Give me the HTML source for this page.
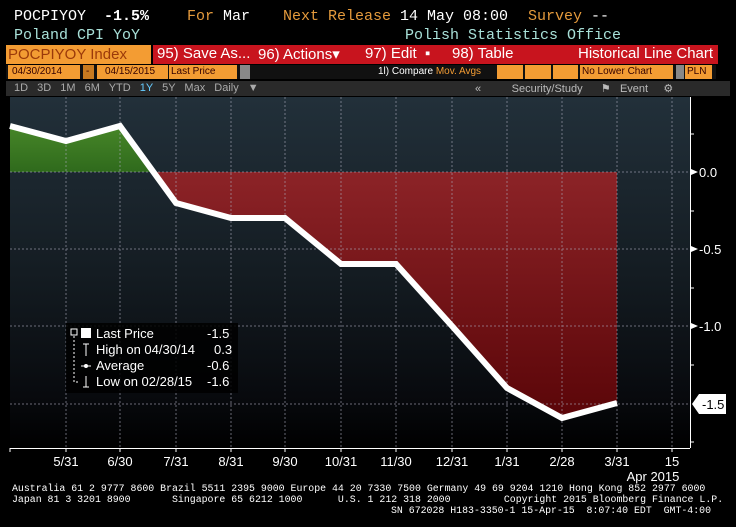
<!DOCTYPE html><html><head><style>
body{margin:0;width:736px;height:527px;background:#000;overflow:hidden;font-family:"Liberation Mono",monospace;position:relative}
.t{position:absolute;white-space:nowrap}
.s{font-family:"Liberation Sans",sans-serif}
.b{position:absolute;top:65px;height:14px;background:#f39c33}
.bt{position:absolute;top:66px;font-size:10px;color:#300;font-family:"Liberation Sans",sans-serif;white-space:nowrap}
</style></head><body>
<div class="t" style="left:14px;top:8px;font-size:15px;color:#fff">POCPIYOY &nbsp;<b>-1.5%</b></div>
<div class="t" style="left:187px;top:8px;font-size:15px;color:#e49a3c">For <span style="color:#fff">Mar</span></div>
<div class="t" style="left:283px;top:8px;font-size:15px;color:#e49a3c">Next Release <span style="color:#fff">14 May 08:00</span></div>
<div class="t" style="left:528px;top:8px;font-size:15px;color:#e49a3c">Survey <span style="color:#fff">--</span></div>
<div class="t" style="left:14px;top:27px;font-size:15px;color:#a8e0d8">Poland CPI YoY</div>
<div class="t" style="left:405px;top:27px;font-size:15px;color:#a8e0d8">Polish Statistics Office</div>
<div style="position:absolute;left:6px;top:45px;width:145px;height:19px;background:#f39c33"></div>
<div class="t s" style="left:8px;top:46px;font-size:15px;color:#9b3a0a">POCPIYOY Index</div>
<div style="position:absolute;left:153px;top:45px;width:565px;height:19px;background:#c8141e"></div>
<div class="t s" style="left:157px;top:45px;font-size:15px;color:#fff">95) Save As...</div>
<div class="t s" style="left:258px;top:45px;font-size:15px;color:#fff">96) Actions▾</div>
<div class="t s" style="left:365px;top:45px;font-size:15px;color:#fff">97) Edit &nbsp;▪</div>
<div class="t s" style="left:452px;top:45px;font-size:15px;color:#fff">98) Table</div>
<div class="t s" style="left:578px;top:45px;font-size:15px;color:#fff">Historical Line Chart</div>
<div style="position:absolute;left:6px;top:65px;width:710px;height:14px;background:#111"></div>
<div class="b" style="left:8px;width:72px"></div><div class="bt" style="left:12px">04/30/2014</div>
<div class="b" style="left:83px;width:11px;background:#c87a20"></div><div class="bt" style="left:86px">-</div>
<div class="b" style="left:97px;width:71px"></div><div class="bt" style="left:105px">04/15/2015</div>
<div class="b" style="left:169px;width:68px"></div><div class="bt" style="left:171px">Last Price</div>
<div class="b" style="left:240px;width:10px;background:#888"></div>
<div class="t s" style="left:378px;top:66px;font-size:10px;color:#fff">1l) Compare <span style="color:#f39c33">Mov. Avgs</span></div>
<div class="b" style="left:497px;width:26px"></div><div class="b" style="left:525px;width:26px"></div><div class="b" style="left:553px;width:25px"></div>
<div class="b" style="left:580px;width:93px"></div><div class="bt" style="left:582px">No Lower Chart</div>
<div class="b" style="left:676px;width:8px;background:#888"></div>
<div class="b" style="left:685px;width:27px"></div><div class="bt" style="left:687px">PLN</div>
<div style="position:absolute;left:6px;top:81px;width:724px;height:15px;background:#2a2a2a"></div>
<div class="t s" style="left:14px;top:82px;font-size:11px;color:#aaa;word-spacing:6px">1D 3D 1M 6M YTD <span style="color:#6cf">1Y</span> 5Y Max Daily ▼</div>
<div class="t s" style="left:475px;top:82px;font-size:11px;color:#bbb">« &nbsp;&nbsp;&nbsp;&nbsp;&nbsp;&nbsp;&nbsp;&nbsp;&nbsp;Security/Study &nbsp;&nbsp;&nbsp;&nbsp;&nbsp;⚑ &nbsp;&nbsp;Event &nbsp;&nbsp;&nbsp;&nbsp;⚙</div>
<svg style="position:absolute;left:0;top:0" width="736" height="527">
<defs>
<linearGradient id="bg" x1="0" y1="97" x2="0" y2="448" gradientUnits="userSpaceOnUse"><stop offset="0" stop-color="#22303a"/><stop offset="0.5" stop-color="#141c22"/><stop offset="0.85" stop-color="#080a0e"/><stop offset="1" stop-color="#000"/></linearGradient>
<linearGradient id="rd" x1="0" y1="172" x2="0" y2="420" gradientUnits="userSpaceOnUse"><stop offset="0" stop-color="#8c2327"/><stop offset="1" stop-color="#5a0508"/></linearGradient>
<linearGradient id="gr" x1="0" y1="120" x2="0" y2="172" gradientUnits="userSpaceOnUse"><stop offset="0" stop-color="#4a8a2a"/><stop offset="1" stop-color="#2f6a1c"/></linearGradient>
</defs>
<rect x="10" y="97" width="680" height="351" fill="url(#bg)"/>
<polygon points="10,126 66,141 120,126 153.6,172 10,172" fill="url(#gr)"/>
<polygon points="153.6,172 176,203 231,218 285,218 341,264 396,264 452,326 507,388 562,418 617,403 617,172" fill="url(#rd)"/>
<g stroke="#aab" stroke-width="1" stroke-dasharray="2,2" opacity="0.6">
<line x1="66" y1="97" x2="66" y2="448"/><line x1="120" y1="97" x2="120" y2="448"/><line x1="176" y1="97" x2="176" y2="448"/><line x1="231" y1="97" x2="231" y2="448"/><line x1="285" y1="97" x2="285" y2="448"/><line x1="341" y1="97" x2="341" y2="448"/><line x1="396" y1="97" x2="396" y2="448"/><line x1="452" y1="97" x2="452" y2="448"/><line x1="507" y1="97" x2="507" y2="448"/><line x1="562" y1="97" x2="562" y2="448"/><line x1="617" y1="97" x2="617" y2="448"/><line x1="672" y1="97" x2="672" y2="448"/>
<line x1="10" y1="172" x2="690" y2="172"/><line x1="10" y1="249" x2="690" y2="249"/><line x1="10" y1="326" x2="690" y2="326"/><line x1="10" y1="404" x2="690" y2="404"/>
</g>
<polyline points="10,126 66,141 120,126 176,203 231,218 285,218 341,264 396,264 452,326 507,388 562,418 617,403" fill="none" stroke="#fff" stroke-width="6" stroke-linejoin="miter"/>
<line x1="690.5" y1="97" x2="690.5" y2="448" stroke="#fff"/>
<line x1="10" y1="448.5" x2="690" y2="448.5" stroke="#fff"/>
<g stroke="#fff"><line x1="690" y1="134" x2="694" y2="134"/><line x1="690" y1="211" x2="694" y2="211"/><line x1="690" y1="288" x2="694" y2="288"/><line x1="690" y1="365" x2="694" y2="365"/><line x1="690" y1="442" x2="694" y2="442"/>
<line x1="10" y1="448" x2="10" y2="452"/><line x1="66" y1="448" x2="66" y2="452"/><line x1="120" y1="448" x2="120" y2="452"/><line x1="176" y1="448" x2="176" y2="452"/><line x1="231" y1="448" x2="231" y2="452"/><line x1="285" y1="448" x2="285" y2="452"/><line x1="341" y1="448" x2="341" y2="452"/><line x1="396" y1="448" x2="396" y2="452"/><line x1="452" y1="448" x2="452" y2="452"/><line x1="507" y1="448" x2="507" y2="452"/><line x1="562" y1="448" x2="562" y2="452"/><line x1="617" y1="448" x2="617" y2="452"/><line x1="672" y1="448" x2="672" y2="452"/></g>
<g fill="#fff"><polygon points="691,169 698,172 691,175"/><polygon points="691,246 698,249 691,252"/><polygon points="691,323 698,326 691,329"/></g>
<polygon points="692,404 699,394 726,394 726,414 699,414" fill="#fff"/>
<g font-family="Liberation Sans,sans-serif" font-size="13" fill="#fff">
<text x="699" y="177">0.0</text><text x="699" y="254">-0.5</text><text x="699" y="331">-1.0</text>
<text x="702" y="409" fill="#000">-1.5</text>
</g>
<g font-family="Liberation Sans,sans-serif" font-size="13" fill="#fff" text-anchor="middle">
<text x="66" y="466">5/31</text><text x="120" y="466">6/30</text><text x="176" y="466">7/31</text><text x="231" y="466">8/31</text><text x="285" y="466">9/30</text><text x="341" y="466">10/31</text><text x="396" y="466">11/30</text><text x="452" y="466">12/31</text><text x="507" y="466">1/31</text><text x="562" y="466">2/28</text><text x="617" y="466">3/31</text><text x="672" y="466">15</text><text x="653" y="481">Apr 2015</text>
</g>
<rect x="66" y="323" width="172" height="70" fill="#000" opacity="0.85"/>
<g font-family="Liberation Sans,sans-serif" font-size="13" fill="#fff">
<rect x="71" y="329" width="6" height="6" fill="none" stroke="#fff"/>
<rect x="81" y="328" width="10" height="10"/>
<text x="96" y="338">Last Price</text><text x="207" y="338">-1.5</text>
<text x="96" y="354">High on 04/30/14</text><text x="214" y="354">0.3</text>
<text x="96" y="370">Average</text><text x="207" y="370">-0.6</text>
<text x="96" y="386">Low on 02/28/15</text><text x="207" y="386">-1.6</text>
</g>
<g stroke="#fff" fill="none"><path d="M74,336 V382 H80" stroke-dasharray="2,2"/><path d="M83,344 h6 M86,344 v12"/><path d="M81,366 h10"/><circle cx="86" cy="366" r="1.5" fill="#fff"/><path d="M86,376 v11 M83,387 h6"/></g>
</svg>
<div class="t" style="left:12px;top:483px;font-size:9.9px;color:#fff;line-height:11px">Australia 61 2 9777 8600 Brazil 5511 2395 9000 Europe 44 20 7330 7500 Germany 49 69 9204 1210 Hong Kong 852 2977 6000</div>
<div class="t" style="left:12px;top:494px;font-size:9.9px;color:#fff;line-height:11px">Japan 81 3 3201 8900 &nbsp;&nbsp;&nbsp;&nbsp;&nbsp;&nbsp;Singapore 65 6212 1000 &nbsp;&nbsp;&nbsp;&nbsp;&nbsp;U.S. 1 212 318 2000 &nbsp;&nbsp;&nbsp;&nbsp;&nbsp;&nbsp;&nbsp;&nbsp;Copyright 2015 Bloomberg Finance L.P.</div>
<div class="t" style="left:391px;top:505px;font-size:9.9px;color:#fff">SN 672028 H183-3350-1 15-Apr-15 &nbsp;8:07:40 EDT &nbsp;GMT-4:00</div>
</body></html>
